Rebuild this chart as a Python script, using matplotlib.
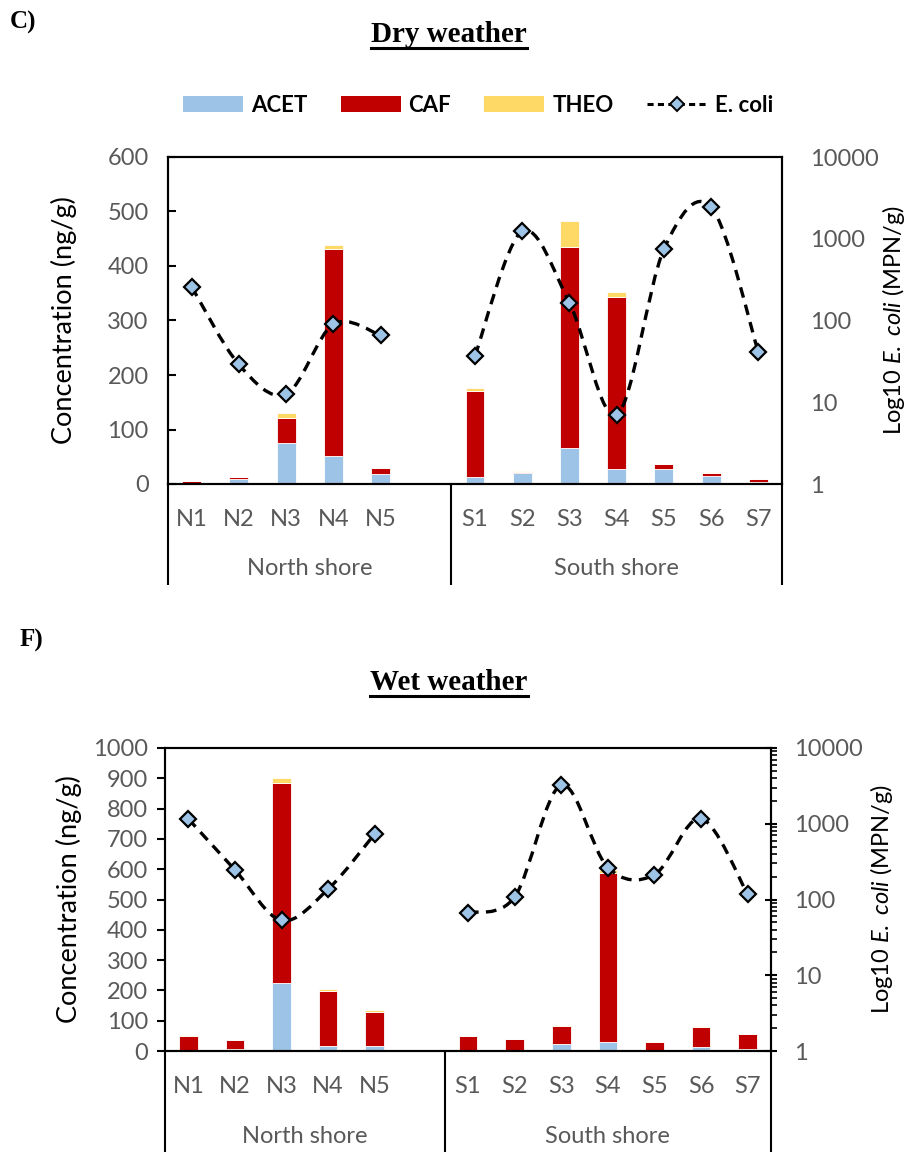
import numpy as np
import matplotlib
matplotlib.use("Agg")
import matplotlib.pyplot as plt
from matplotlib.path import Path
from matplotlib.patches import PathPatch, Patch
from matplotlib.lines import Line2D
from matplotlib.transforms import blended_transform_factory
from matplotlib.ticker import LogLocator, NullLocator, NullFormatter

# -----------------------------------------------------------------------------
# Data
# -----------------------------------------------------------------------------
north_sites = ["N1", "N2", "N3", "N4", "N5"]
south_sites = ["S1", "S2", "S3", "S4", "S5", "S6", "S7"]
categories = north_sites + [""] + south_sites   # blank slot between shores
groups = ["North shore", "South shore"]

nan = np.nan
# Dry weather (ng/g)
acet_dry = [2, 10, 76, 52, 18, nan, 13, 20, 66, 27, 27, 14, 4]
caf_dry = [3, 3, 46, 380, 11, nan, 158, 2, 369, 317, 10, 7, 5]
theo_dry = [0.5, 0.5, 9, 6, 1, nan, 5, 1, 48, 9, 0.5, 0.5, 1]
ecoli_dry = [259, 29, 12.6, 90, 66, nan, 37, 1233, 164, 7, 743, 2445, 41]

# Wet weather (ng/g)
acet_wet = [2, 5, 225, 15, 18, nan, 1, 2, 22, 30, 2, 13, 7]
caf_wet = [48, 31, 658, 184, 110, nan, 49, 36, 61, 557, 29, 65, 48]
theo_wet = [2, 1, 18, 5, 7, nan, 1, 2, 2, 10, 2, 4, 1]
ecoli_wet = [1161, 246, 53, 137, 736, nan, 67, 108, 3236, 264, 213, 1172, 117]

# -----------------------------------------------------------------------------
# Style
# -----------------------------------------------------------------------------
plt.rcParams.update({
    "font.family": ["Lato", "DejaVu Sans"],
    "mathtext.fontset": "custom",
    "mathtext.rm": "Lato",
    "mathtext.it": "Lato:italic",
    "mathtext.bf": "Lato:bold",
    "axes.linewidth": 1.5,
})

C_ACET = "#9DC3E6"
C_CAF = "#C00000"
C_THEO = "#FFD966"
C_TICK = "#595959"
TICK_FS = 17
LEFT_LABEL_FS = 19.5
RIGHT_LABEL_FS = 17
SERIF = "Liberation Serif"


def smooth_path(xs, ys):
    """Excel-like smoothed line: Catmull-Rom Bezier segments in log space."""
    xs = np.asarray(xs, float)
    ly = np.log10(np.asarray(ys, float))
    n = len(xs)
    verts = [(xs[0], 10 ** ly[0])]
    codes = [Path.MOVETO]
    for i in range(n - 1):
        i0 = max(i - 1, 0)
        i3 = min(i + 2, n - 1)
        c1 = (xs[i] + (xs[i + 1] - xs[i0]) / 6, ly[i] + (ly[i + 1] - ly[i0]) / 6)
        c2 = (xs[i + 1] - (xs[i3] - xs[i]) / 6, ly[i + 1] - (ly[i3] - ly[i]) / 6)
        verts += [(c1[0], 10 ** c1[1]), (c2[0], 10 ** c2[1]), (xs[i + 1], 10 ** ly[i + 1])]
        codes += [Path.CURVE4] * 3
    return Path(verts, codes)


def draw_panel(ax, acet, caf, theo, ecoli, ymax, ystep, left_dir, sep_len_px,
               cat_pad, grp_y, minor_log):
    x = np.arange(len(categories))
    acet = np.asarray(acet, float)
    caf = np.asarray(caf, float)
    theo = np.asarray(theo, float)
    ecoli = np.asarray(ecoli, float)
    m = ~np.isnan(acet)

    bw = 0.4
    ax.bar(x[m], acet[m], bw, color=C_ACET, edgecolor="white", linewidth=0.6, zorder=2)
    ax.bar(x[m], caf[m], bw, bottom=acet[m], color=C_CAF, edgecolor="white",
           linewidth=0.6, zorder=2)
    ax.bar(x[m], theo[m], bw, bottom=acet[m] + caf[m], color=C_THEO,
           edgecolor="white", linewidth=0.6, zorder=2)

    ax.set_xlim(-0.5, len(categories) - 0.5)
    ax.set_ylim(0, ymax)
    ax.set_yticks(np.arange(0, ymax + 1, ystep))
    ax.tick_params(axis="y", direction=left_dir, length=6, width=1.5,
                   labelsize=TICK_FS, labelcolor=C_TICK, pad=14 if left_dir == "in" else 6)
    ax.set_ylabel("Concentration (ng/g)", fontsize=LEFT_LABEL_FS)

    # category boundaries as long ticks (multi-level axis separators)
    bounds = [-0.5, len(north_sites) + 0.5, len(categories) - 0.5]
    ax.set_xticks(bounds, labels=["", "", ""])
    ax.tick_params(axis="x", which="major", direction="out",
                   length=sep_len_px * 72 / 100, width=1.5)
    ax.set_xticks(x, labels=categories, minor=True)
    ax.tick_params(axis="x", which="minor", length=0, labelsize=TICK_FS,
                   labelcolor=C_TICK, pad=cat_pad)
    trans = blended_transform_factory(ax.transData, ax.transAxes)
    for (a, b), g in zip(zip(bounds[:-1], bounds[1:]), groups):
        ax.text((a + b) / 2, grp_y, g, transform=trans, ha="center", va="center",
                fontsize=TICK_FS, color=C_TICK)

    # E. coli on log axis
    ax2 = ax.twinx()
    ax2.set_yscale("log")
    ax2.set_ylim(1, 10000)
    ax2.set_yticks([1, 10, 100, 1000, 10000], labels=["1", "10", "100", "1000", "10000"])
    if minor_log:
        ax2.yaxis.set_minor_locator(LogLocator(base=10, subs=np.arange(2, 10)))
        ax2.yaxis.set_minor_formatter(NullFormatter())
        ax2.tick_params(axis="y", which="major", direction="inout", length=9, width=1.5,
                        labelsize=TICK_FS, labelcolor=C_TICK, pad=12)
        ax2.tick_params(axis="y", which="minor", direction="out", length=4, width=1.2)
    else:
        ax2.yaxis.set_minor_locator(NullLocator())
        ax2.tick_params(axis="y", which="major", length=0, labelsize=TICK_FS,
                        labelcolor=C_TICK, pad=20)
    ax2.set_ylabel(r"Log10 $\mathit{E.\ coli}$ (MPN/g)", fontsize=RIGHT_LABEL_FS)

    e_ok = ~np.isnan(ecoli)
    # split into runs of consecutive valid points
    runs, cur = [], []
    for xi, ok in zip(x, e_ok):
        if ok:
            cur.append(xi)
        elif cur:
            runs.append(cur)
            cur = []
    if cur:
        runs.append(cur)
    for r in runs:
        r = np.array(r)
        ax2.add_patch(PathPatch(smooth_path(r, ecoli[r]), facecolor="none",
                                edgecolor="black", linewidth=2.4,
                                linestyle=(0, (3.2, 2.2)), zorder=3))
    ax2.plot(x[e_ok], ecoli[e_ok], linestyle="none", marker="D", markersize=8,
             markerfacecolor=C_ACET, markeredgecolor="black", markeredgewidth=1.6,
             zorder=4)
    return ax2


fig = plt.figure(figsize=(9.06, 11.52), dpi=100)

# Dry weather panel
ax_dry = fig.add_axes([168 / 906, 1 - 484 / 1152, 614 / 906, 327 / 1152])
ax2_dry = draw_panel(ax_dry, acet_dry, caf_dry, theo_dry, ecoli_dry, 600, 100,
                     "in", 101, cat_pad=18, grp_y=-0.257, minor_log=False)
ax_dry.yaxis.set_label_coords(-0.148, 0.5)
ax2_dry.yaxis.set_label_coords(1.16, 0.5)

# Wet weather panel
ax_wet = fig.add_axes([165 / 906, 1 - 1051 / 1152, 606 / 906, 303 / 1152])
ax2_wet = draw_panel(ax_wet, acet_wet, caf_wet, theo_wet, ecoli_wet, 1000, 100,
                     "out", 101, cat_pad=18, grp_y=-0.282, minor_log=True)
ax_wet.yaxis.set_label_coords(-0.137, 0.5)
ax2_wet.yaxis.set_label_coords(1.16, 0.5)

# Legend (top only)
handles = [
    Patch(facecolor=C_ACET, edgecolor="none", label="ACET"),
    Patch(facecolor=C_CAF, edgecolor="none", label="CAF"),
    Patch(facecolor=C_THEO, edgecolor="none", label="THEO"),
    Line2D([], [], color="black", linestyle=(0, (2, 1.4)), linewidth=2.2, marker="D",
           markersize=7, markerfacecolor=C_ACET, markeredgecolor="black",
           markeredgewidth=1.4, label="E. coli"),
]
fig.legend(handles=handles, loc="center", bbox_to_anchor=(478 / 906, 1 - 105 / 1152),
           ncol=4, frameon=False, handlelength=2.7, handleheight=0.7,
           handletextpad=0.35, columnspacing=1.5,
           prop={"family": "Lato", "weight": "bold", "size": 16})

# Panel letters and titles
fig.text(10 / 906, 1 - 22 / 1152, "C)", family=SERIF, weight="bold", fontsize=18,
         ha="left", va="center")
fig.text(20 / 906, 1 - 640 / 1152, "F)", family=SERIF, weight="bold", fontsize=18,
         ha="left", va="center")
t1 = fig.text(449 / 906, 1 - 35 / 1152, "Dry weather", family=SERIF, weight="bold",
              fontsize=21, ha="center", va="center")
t2 = fig.text(449 / 906, 1 - 683 / 1152, "Wet weather", family=SERIF, weight="bold",
              fontsize=21, ha="center", va="center")

# underline titles
fig.canvas.draw()
renderer = fig.canvas.get_renderer()
inv = fig.transFigure.inverted()
for t in (t1, t2):
    bb = t.get_window_extent(renderer)
    (x0, y0), (x1, _) = inv.transform([(bb.x0, bb.y0 + 1), (bb.x1, bb.y0 + 1)])
    fig.add_artist(Line2D([x0, x1], [y0, y0], transform=fig.transFigure,
                          color="black", linewidth=2.2))

fig.savefig("out.png", dpi=100)
